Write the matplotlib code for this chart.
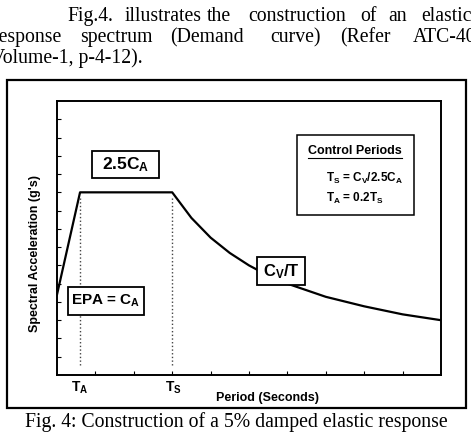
import matplotlib
matplotlib.use("Agg")
import matplotlib.pyplot as plt
from matplotlib.patches import Rectangle

plt.rcParams['mathtext.fontset'] = 'custom'
plt.rcParams['mathtext.rm'] = 'Liberation Sans:bold'
plt.rcParams['mathtext.it'] = 'Liberation Sans:bold'
plt.rcParams['mathtext.bf'] = 'Liberation Sans:bold'

# spectrum (C_A = 1, T_S = 3)
periodo = [0.0, 0.6, 3.0, 3.5, 4.0, 4.5, 5.0, 5.5, 6.0, 7.0, 8.0, 9.0, 10.0]
acel = [1.1, 2.5, 2.5, 2.15, 1.88, 1.67, 1.5, 1.36, 1.25, 1.07, 0.94, 0.83, 0.75]
t_a = 0.6
t_s = 3.0
xticks = [1, 2, 3, 4, 5, 6, 7, 8, 9]
yticks = [0.25 * i for i in range(1, 15)]

# body text around the chart (word, x pixel)
linea1 = [("Fig.4.", 67), ("illustrates", 125), ("the", 207), ("construction", 248),
          ("of", 360), ("an", 388), ("elastic", 421)]
linea2 = [("response", -7), ("spectrum", 80), ("(Demand", 170), ("curve)", 270),
          ("(Refer", 340), ("ATC-40", 413)]
linea3 = [("Volume-1, p-4-12).", -9)]
pie = "Fig. 4: Construction of a 5% damped elastic response"

W, H = 471, 432
fig = plt.figure(figsize=(W / 100, H / 100), dpi=100)

def px(x, y):
    return x / W, 1 - y / H

serif = dict(family="Liberation Serif", fontsize=14.2, va="baseline")
for linea, yb in [(linea1, 21), (linea2, 42), (linea3, 63)]:
    for palabra, xp in linea:
        fig.text(*px(xp, yb), palabra, **serif)
fig.text(*px(236, 427), pie, ha="center", **serif)

# outer frame
fig.patches.append(Rectangle(px(7, 408), 459 / W, 328 / H, transform=fig.transFigure,
                             fill=False, edgecolor="black", linewidth=1.6))

ax = fig.add_axes([57 / W, 1 - 375 / H, 384 / W, 274 / H])
ax.set_xlim(0, 10)
ax.set_ylim(0, 3.75)
for s in ax.spines.values():
    s.set_linewidth(1.4)
ax.set_xticks(xticks)
ax.set_yticks(yticks)
ax.tick_params(direction="in", length=3, width=0.8, labelbottom=False, labelleft=False)

ax.plot(periodo, acel, color="black", linewidth=1.6, zorder=2)
for t in [t_a, t_s]:
    ax.plot([t, t], [0.14, 2.45], color="#444444", linestyle=":", linewidth=1, zorder=1)

def dx(x):
    return (x - 57) / 38.4

def dy(y):
    return (375 - y) / 73.2

def caja(x0, y0, x1, y1, texto, fs):
    ax.add_patch(Rectangle((dx(x0), dy(y1)), dx(x1) - dx(x0), dy(y0) - dy(y1),
                           facecolor="white", edgecolor="black", linewidth=1.3, zorder=3))
    ax.text((dx(x0) + dx(x1)) / 2, (dy(y0) + dy(y1)) / 2, texto, ha="center", va="center",
            fontsize=fs, family="Liberation Sans", fontweight="bold", zorder=4)

caja(92, 151, 159, 178, r"2.5C$_A$", 12.5)
caja(68, 287, 144, 315, r"EPA = C$_A$", 11)
caja(257, 257, 305, 285, r"C$_V$/T", 12)

# control periods box
ax.add_patch(Rectangle((dx(297), dy(215)), dx(414) - dx(297), dy(135) - dy(215),
                       facecolor="white", edgecolor="black", linewidth=1.1, zorder=3))
bold = dict(family="Liberation Sans", fontweight="bold", zorder=4)
ax.text(dx(355), dy(151), "Control Periods", ha="center", va="center", fontsize=9, **bold)
ax.plot([dx(308), dx(402)], [dy(158), dy(158)], color="black", linewidth=0.8, zorder=4)
ax.text(dx(326), dy(178), r"T$_S$ = C$_V$/2.5C$_A$", ha="left", va="center", fontsize=8.5, **bold)
ax.text(dx(326), dy(198), r"T$_A$ = 0.2T$_S$", ha="left", va="center", fontsize=8.5, **bold)

# axis labels
lab = dict(ha="center", va="center", family="Liberation Sans", fontweight="bold")
fig.text(*px(80, 388), r"T$_A$", fontsize=10, **lab)
fig.text(*px(173, 388), r"T$_S$", fontsize=10, **lab)
fig.text(*px(268, 398), "Period (Seconds)", fontsize=9, **lab)
fig.text(*px(35, 253), "Spectral Acceleration (g's)", rotation=90, fontsize=9, **lab)

fig.savefig("out.png", dpi=100)
